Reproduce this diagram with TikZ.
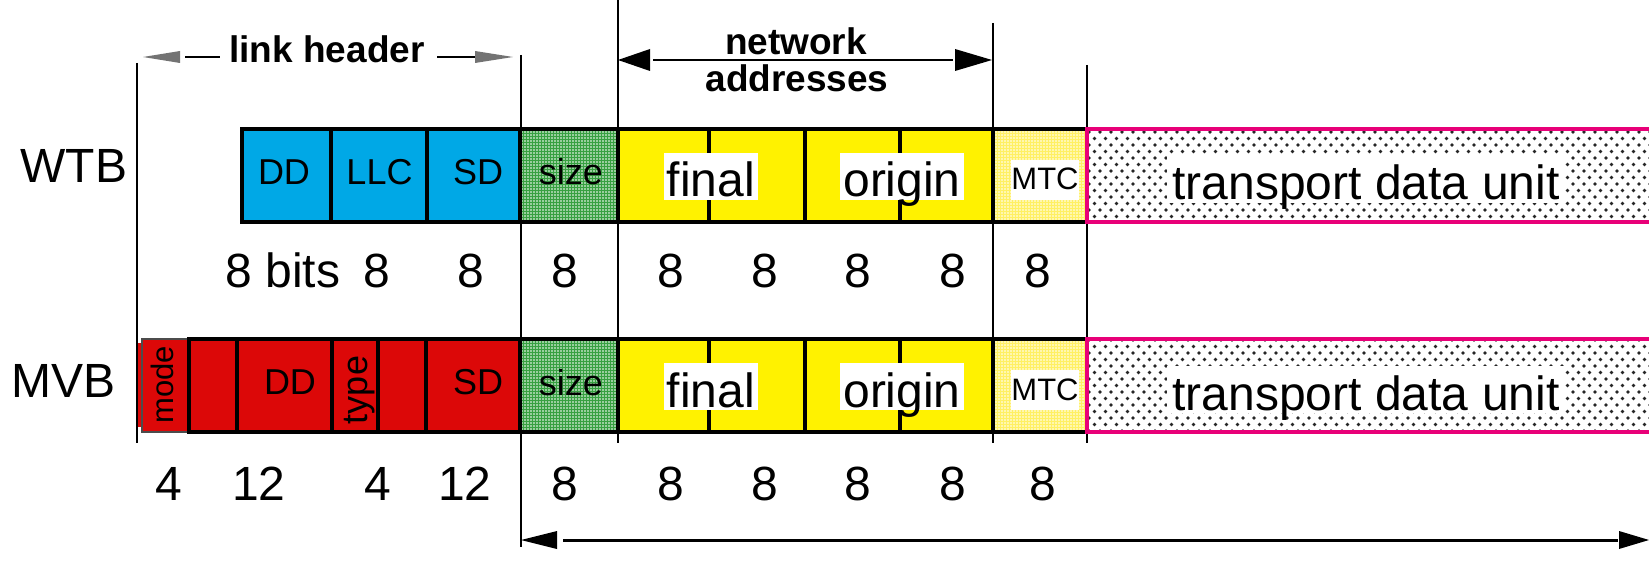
\documentclass[tikz,border=0pt]{standalone}
\usepackage{fontspec}
\setmainfont{Liberation Sans}
\usetikzlibrary{patterns}

\definecolor{wtbcyan}{RGB}{0,168,230}
\definecolor{mvbred}{RGB}{220,8,8}
\definecolor{addryellow}{RGB}{255,242,0}
\definecolor{sizegreen}{RGB}{55,160,65}
\definecolor{mtcyellow}{RGB}{255,240,100}
\definecolor{tdupink}{RGB}{232,0,120}

% fine dither of light dots laid over a coloured fill
\pgfdeclarepatternformonly{finedots}{\pgfqpoint{-0.75pt}{-0.75pt}}{\pgfqpoint{0.75pt}{0.75pt}}{\pgfqpoint{1.5pt}{1.5pt}}{%
  \pgfpathcircle{\pgfqpoint{0pt}{0pt}}{0.4pt}%
  \pgfusepath{fill}}
% staggered dot screen for the transport data unit
\pgfdeclarepatternformonly{tdudots}{\pgfqpoint{-1pt}{-1pt}}{\pgfqpoint{4.5pt}{5.5pt}}{\pgfqpoint{5.5pt}{6.5pt}}{%
  \pgfpathcircle{\pgfqpoint{0pt}{0pt}}{0.9pt}%
  \pgfpathcircle{\pgfqpoint{2.75pt}{3.25pt}}{0.9pt}%
  \pgfusepath{fill}}

% one field of a frame: [style]{name}{x1}{x2}{y1}{y2}
\newcommand\pktcell[6][]{%
  \pgfmathsetmacro\pktw{(#4-#3)*0.5}%
  \pgfmathsetmacro\pkth{(#6-#5)*0.5}%
  \node[#1,minimum width=\pktw pt,minimum height=\pkth pt] (#2) at ({(#3+#4)/2},{(#5+#6)/2}) {};%
}

\begin{document}
\begin{tikzpicture}[x=0.5pt,y=-0.5pt]
\tikzset{
  every node/.style={inner sep=0pt,outer sep=0pt},
  guide/.style={line width=1.2pt},
  cellbox/.style={draw=black,line width=1.7pt},
  wtbcell/.style={cellbox,fill=wtbcyan},
  mvbcell/.style={cellbox,fill=mvbred},
  modecell/.style={draw=black!70,line width=1.3pt,fill=mvbred},
  sizecell/.style={cellbox,preaction={fill=sizegreen},pattern=finedots,pattern color=white},
  addrcell/.style={cellbox,fill=addryellow},
  mtccell/.style={cellbox,preaction={fill=mtcyellow},pattern=finedots,pattern color=white},
  tducell/.style={draw=tdupink,line width=1.7pt,preaction={fill=white},pattern=tdudots,pattern color=black!85},
  biglbl/.style={anchor=base,font=\fontsize{24}{28}\selectfont},
  celllbl/.style={anchor=base,font=\fontsize{18}{21}\selectfont},
  smalllbl/.style={anchor=base,font=\fontsize{15.5}{18}\selectfont},
  boldlbl/.style={anchor=base,font=\bfseries\fontsize{18.5}{22}\selectfont},
  patchlbl/.style={biglbl,fill=white,text height=22pt,text depth=1.5pt,inner xsep=1.5pt},
  mtclbl/.style={smalllbl,fill=white,text height=15pt,text depth=5pt},
  dimline/.style={line width=1.2pt},
  dimtip/.style={fill=black},
  hdrline/.style={line width=1pt},
  hdrtip/.style={fill=black!55},
}
\useasboundingbox (0,0) rectangle (1649,561);

% vertical guide lines
\coordinate (g1t) at (137,63);   \coordinate (g1b) at (137,443);
\coordinate (g2t) at (521,55);   \coordinate (g2b) at (521,547);
\coordinate (g3t) at (618,0);    \coordinate (g3b) at (618,443);
\coordinate (g4t) at (993,23);   \coordinate (g4b) at (993,443);
\coordinate (g5t) at (1087,65);  \coordinate (g5b) at (1087,443);
\foreach \g in {g1,g2,g3,g4,g5} \draw[guide] (\g t) -- (\g b);

% WTB frame
\pktcell[wtbcell]{wdd}{242}{331}{129}{222}
\pktcell[wtbcell]{wllc}{331}{427}{129}{222}
\pktcell[wtbcell]{wsd}{427}{520}{129}{222}
\pktcell[sizecell]{wsize}{520}{618}{129}{222}
\pktcell[addrcell]{wfin1}{618}{709}{129}{222}
\pktcell[addrcell]{wfin2}{709}{805}{129}{222}
\pktcell[addrcell]{worg1}{805}{900}{129}{222}
\pktcell[addrcell]{worg2}{900}{993}{129}{222}
\pktcell[mtccell]{wmtc}{993}{1087}{129}{222}
\pktcell[tducell]{wtdu}{1087}{1675}{129}{222}

% MVB frame
\fill[mvbred] (138,343) rectangle (144,427);
\pktcell[modecell]{mmode}{142}{189}{339}{432}
\pktcell[mvbcell]{mres1}{189}{237}{339}{432}
\pktcell[mvbcell]{mdd}{237}{332}{339}{432}
\pktcell[mvbcell]{mtype}{332}{378}{339}{432}
\pktcell[mvbcell]{mres2}{378}{426}{339}{432}
\pktcell[mvbcell]{msd}{426}{520}{339}{432}
\pktcell[sizecell]{msize}{520}{618}{339}{432}
\pktcell[addrcell]{mfin1}{618}{709}{339}{432}
\pktcell[addrcell]{mfin2}{709}{805}{339}{432}
\pktcell[addrcell]{morg1}{805}{900}{339}{432}
\pktcell[addrcell]{morg2}{900}{993}{339}{432}
\pktcell[mtccell]{mmtc}{993}{1087}{339}{432}
\pktcell[tducell]{mtdu}{1087}{1675}{339}{432}

% row names
\node[biglbl] (wtb) at (74,183) {WTB};
\node[biglbl] (mvb) at (64,397) {MVB};

% WTB field names
\node[celllbl] (wddL) at (284,185) {DD};
\node[celllbl] (wllcL) at (379.5,185) {LLC};
\node[celllbl] (wsdL) at (478,185) {SD};
\node[celllbl] (wsizeL) at (571,185) {size};
\node[patchlbl] (wfinL) at (711,197) {final};
\node[patchlbl] (worgL) at (902,197) {origin};
\node[mtclbl] (wmtcL) at (1045,190) {MTC};
\node[patchlbl,inner xsep=3pt] (wtduL) at (1366,200) {transport data unit};

% MVB field names
\node[smalllbl,rotate=90,anchor=center] (mmodeL) at (162.5,385) {mode};
\node[celllbl] (mddL) at (290,394) {DD};
\node[celllbl,rotate=90,anchor=center] (mtypeL) at (360,390) {type};
\node[celllbl] (msdL) at (478,394) {SD};
\node[celllbl] (msizeL) at (571,395) {size};
\node[patchlbl] (mfinL) at (711,407) {final};
\node[patchlbl] (morgL) at (902,407) {origin};
\node[mtclbl] (mmtcL) at (1045,400) {MTC};
\node[patchlbl,inner xsep=3pt] (mtduL) at (1366,410) {transport data unit};

% WTB field widths
\node[biglbl] (wb1) at (283,287) {8 bits};
\node[biglbl] (wb2) at (376.5,287) {8};
\node[biglbl] (wb3) at (471,287) {8};
\node[biglbl] (wb4) at (565,287) {8};
\node[biglbl] (wb5) at (671,287) {8};
\node[biglbl] (wb6) at (765,287) {8};
\node[biglbl] (wb7) at (858,287) {8};
\node[biglbl] (wb8) at (953,287) {8};
\node[biglbl] (wb9) at (1038,287) {8};

% MVB field widths
\node[biglbl] (mb1) at (169,500) {4};
\node[biglbl] (mb2) at (259,500) {12};
\node[biglbl] (mb3) at (377.5,500) {4};
\node[biglbl] (mb4) at (465,500) {12};
\node[biglbl] (mb5) at (565,500) {8};
\node[biglbl] (mb6) at (671,500) {8};
\node[biglbl] (mb7) at (765,500) {8};
\node[biglbl] (mb8) at (858,500) {8};
\node[biglbl] (mb9) at (953,500) {8};
\node[biglbl] (mb10) at (1043,500) {8};

% link header span
\node[boldlbl] (lh) at (327,63) {link header};
\coordinate (lhA) at (185,57); \coordinate (lhB) at (220,57);
\coordinate (lhC) at (437,57); \coordinate (lhD) at (475,57);
\draw[hdrline] (lhA) -- (lhB);
\draw[hdrline] (lhC) -- (lhD);
\fill[hdrtip] (143,57) -- (180,51) -- (180,63) -- cycle;
\fill[hdrtip] (513,57) -- (475,51) -- (475,63) -- cycle;

% network addresses span
\node[boldlbl] (naA) at (796,55) {network};
\node[boldlbl] (naB) at (797,92) {addresses};
\coordinate (naL) at (653,60); \coordinate (naR) at (953,60);
\draw[dimline] (naL) -- (naR);
\fill[dimtip] (618,60) -- (650,49) -- (650,71) -- cycle;
\fill[dimtip] (992,60) -- (955,49) -- (955,71) -- cycle;

% span below the frames
\coordinate (btL) at (563,540); \coordinate (btR) at (1618,540);
\draw[line width=1.5pt] (btL) -- (btR);
\fill[dimtip] (521,540) -- (557,531) -- (557,549) -- cycle;
\fill[dimtip] (1649,540) -- (1619,531) -- (1619,549) -- cycle;
\end{tikzpicture}
\end{document}
